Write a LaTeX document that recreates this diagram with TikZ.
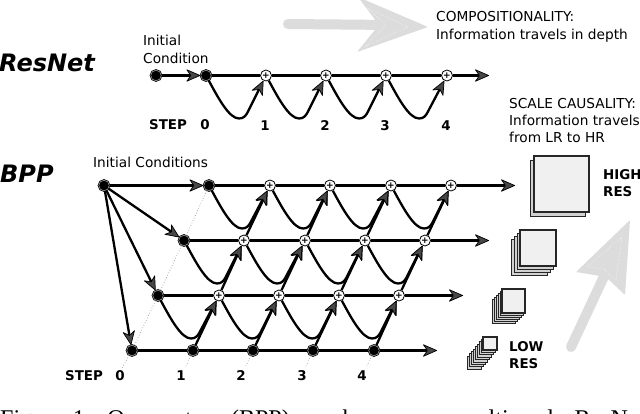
\documentclass[tikz,border=0pt]{standalone}
\usepackage{fontspec}
\setmainfont{DejaVu Sans}
\newfontfamily\capfont{Liberation Serif}
\usetikzlibrary{arrows.meta,calc}
\definecolor{bigarrow}{HTML}{DCDCDC}
\tikzset{
  blacknode/.style={circle,draw=black,fill=black,double=gray!60,double distance=0.5pt,line width=0.8pt,minimum size=10.5pt,inner sep=0pt},
  plusnode/.style={circle,draw=black,fill=white,line width=0.8pt,minimum size=11pt,inner sep=0pt,font=\fontsize{9}{9}\selectfont\bfseries},
  conn/.style={draw=black,line width=2.3pt},
  headtip/.style={-{Stealth[length=15pt,width=13pt,inset=4.5pt,fill=black!72,line width=0.7pt,round]}},
  arrowconn/.style={conn,headtip},
  dotline/.style={draw=gray!80,line width=0.7pt,dotted},
  label/.style={anchor=base west,inner sep=0pt,font=\fontsize{13.7}{16}\selectfont},
  boldlabel/.style={anchor=base west,inner sep=0pt,font=\fontsize{13.4}{16}\selectfont\bfseries},
  steplabel/.style={anchor=base,inner sep=0pt,font=\fontsize{13.4}{16}\selectfont\bfseries},
  title/.style={anchor=base west,inner sep=0pt,font=\fontsize{24}{24}\selectfont\bfseries\itshape},
  stacksheet/.style={draw=black!85,fill=black!18,line width=0.9pt},
  frontsheet/.style={draw=black!85,fill=black!6,line width=1.1pt},
}
\newcommand{\wavecurve}[2]{%
  \draw[arrowconn] (#1) .. controls ($(#1)+(12,22)$) and ($(#1)+(23,43)$) .. ($(#1)+(33,43)$)
     .. controls ($(#1)+(38,43)$) and ($(#1)+(40,40)$) .. ($(#1)+(42,36)$) -- (#2);}
\newcommand{\sheetstack}[7]{% x0 y0 x1 y1 dx dy n
  \foreach \k in {#7,...,1}{
    \path[stacksheet] ({#1-\k*#5},{#2+\k*#6}) rectangle ({#3-\k*#5},{#4+\k*#6});
  }
  \path[frontsheet] (#1,#2) rectangle (#3,#4);}
\begin{document}
\begin{tikzpicture}[x=1pt,y=-1pt]
\useasboundingbox (0,0) rectangle (640,414);
\fill[white] (0,0) rectangle (640,414);
% big grey arrows
\draw[bigarrow,line width=10pt,line cap=round] (288,24) -- (392,25);
\fill[bigarrow,rounded corners=1pt] (358,-3) -- (428,27) -- (357,52) -- (379,25) -- cycle;
\draw[white,densely dotted,line width=0.4pt] (367,8) -- (408,27) -- (366,46) -- (386,25) -- cycle;
\draw[bigarrow,line width=10pt,line cap=round] (571,347) -- (607,270);
\fill[bigarrow,rounded corners=1pt] (630,220) -- (625,295) -- (606,277) -- (576,272) -- cycle;
\draw[white,densely dotted,line width=0.4pt] (622,237) -- (616,280) -- (604,269) -- (587,267) -- cycle;
% ResNet nodes
\node[blacknode] (ri) at (156,75.5) {};
\node[blacknode] (r0) at (206,75.5) {};
\node[plusnode] (r1) at (266,75.5) {+};
\node[plusnode] (r2) at (326,75.5) {+};
\node[plusnode] (r3) at (386,75.5) {+};
\node[plusnode] (r4) at (447,75.5) {+};
\coordinate (rend) at (489,75.5);
\draw[arrowconn] (ri) -- (r0);
\draw[conn] (r0) -- (r1) -- (r2) -- (r3) -- (r4);
\draw[arrowconn] (r4) -- (rend);
\wavecurve{r0}{r1}\wavecurve{r1}{r2}\wavecurve{r2}{r3}\wavecurve{r3}{r4}
% BPP nodes
\node[blacknode] (init) at (104,185.5) {};
\node[blacknode] (a0) at (209,185.5) {};
\node[plusnode] (a1) at (270,185.5) {+};
\node[plusnode] (a2) at (330,185.5) {+};
\node[plusnode] (a3) at (391,185.5) {+};
\node[plusnode] (a4) at (451,185.5) {+};
\coordinate (aend) at (515,185.5);
\node[blacknode] (b0) at (184,240.5) {};
\node[plusnode] (b1) at (244,240.5) {+};
\node[plusnode] (b2) at (305,240.5) {+};
\node[plusnode] (b3) at (365,240.5) {+};
\node[plusnode] (b4) at (425,240.5) {+};
\coordinate (bend) at (489,240.5);
\node[blacknode] (c0) at (158,295.5) {};
\node[plusnode] (c1) at (219,295.5) {+};
\node[plusnode] (c2) at (279,295.5) {+};
\node[plusnode] (c3) at (339,295.5) {+};
\node[plusnode] (c4) at (399,295.5) {+};
\coordinate (cend) at (463,295.5);
\node[blacknode] (d0) at (132,350.5) {};
\node[blacknode] (d1) at (193,350.5) {};
\node[blacknode] (d2) at (253,350.5) {};
\node[blacknode] (d3) at (313,350.5) {};
\node[blacknode] (d4) at (374,350.5) {};
\coordinate (dend) at (437,350.5);
% dotted guides
\coordinate (s0) at (122,368);
\coordinate (s1) at (185,368);
\coordinate (s2) at (245,368);
\coordinate (s3) at (305,368);
\coordinate (s4) at (366,368);
\draw[dotline] (a0) -- (b0) -- (c0) -- (d0) -- (s0);
\draw[dotline] (d1) -- (s1);
\draw[dotline] (d2) -- (s2);
\draw[dotline] (d3) -- (s3);
\draw[dotline] (d4) -- (s4);
% rows
\draw[conn] (a0) -- (a1) -- (a2) -- (a3) -- (a4);
\draw[conn] (b0) -- (b1) -- (b2) -- (b3) -- (b4);
\draw[conn] (c0) -- (c1) -- (c2) -- (c3) -- (c4);
\draw[conn] (d0) -- (d1) -- (d2) -- (d3) -- (d4);
\draw[arrowconn] (a4) -- (aend);
\draw[arrowconn] (b4) -- (bend);
\draw[arrowconn] (c4) -- (cend);
\draw[arrowconn] (d4) -- (dend);
% initial conditions
\draw[arrowconn] (init) -- (a0);
\draw[arrowconn] (init) -- (b0);
\draw[arrowconn] (init) -- (c0);
\draw[arrowconn] (init) -- (d0);
% diagonals
\foreach \n in {1,2,3,4}{
  \draw[arrowconn] (b\n) -- (a\n);
  \draw[arrowconn] (c\n) -- (b\n);
  \draw[arrowconn] (d\n) -- (c\n);
}
% waves
\wavecurve{a0}{a1}\wavecurve{a1}{a2}\wavecurve{a2}{a3}\wavecurve{a3}{a4}
\wavecurve{b0}{b1}\wavecurve{b1}{b2}\wavecurve{b2}{b3}\wavecurve{b3}{b4}
\wavecurve{c0}{c1}\wavecurve{c1}{c2}\wavecurve{c2}{c3}\wavecurve{c3}{c4}
% stacks
\sheetstack{534}{156}{589}{212}{4}{4}{1}
\sheetstack{520}{230}{556}{266}{2.7}{3}{3}
\sheetstack{502}{289}{525}{313}{2}{2}{5}
\sheetstack{483}{337}{497}{350}{1.9}{2.4}{8}
% texts
\node[title] (tres) at (-1,72) {ResNet};
\node[title] (tbpp) at (0,183) {BPP};
\node[label] (lic1) at (143,46) {Initial};
\node[label] (lic2) at (143,63.5) {Condition};
\node[label] (lics) at (93,168) {Initial Conditions};
\node[boldlabel] (st1) at (149,130) {STEP};
\node[steplabel] (n0) at (205,130) {0};
\node[steplabel] (n1) at (265,131) {1};
\node[steplabel] (n2) at (325,131) {2};
\node[steplabel] (n3) at (385,131) {3};
\node[steplabel] (n4) at (446,131) {4};
\node[boldlabel] (st2) at (65,380) {STEP};
\node[steplabel] (m0) at (120,380) {0};
\node[steplabel] (m1) at (181,380) {1};
\node[steplabel] (m2) at (241,380) {2};
\node[steplabel] (m3) at (302,380) {3};
\node[steplabel] (m4) at (362,380) {4};
\node[label] (comp1) at (436,22) {COMPOSITIONALITY:};
\node[label] (comp2) at (436,40) {Information travels in depth};
\node[label] (sc1) at (509,109) {SCALE CAUSALITY:};
\node[label] (sc2) at (509,126) {Information travels};
\node[label] (sc3) at (509,143) {from LR to HR};
\node[boldlabel] (hi1) at (603,180) {HIGH};
\node[boldlabel] (hi2) at (603,197) {RES};
\node[boldlabel] (lo1) at (509,351) {LOW};
\node[boldlabel] (lo2) at (509,368) {RES};
\node[anchor=base west,inner sep=0pt,font=\capfont\fontsize{24}{24}\selectfont] (cap) at (0,426) {\makebox[645pt][s]{Figure 1: Our system (BPP) can be seen as multi-scale ResNet}};
\end{tikzpicture}
\end{document}
